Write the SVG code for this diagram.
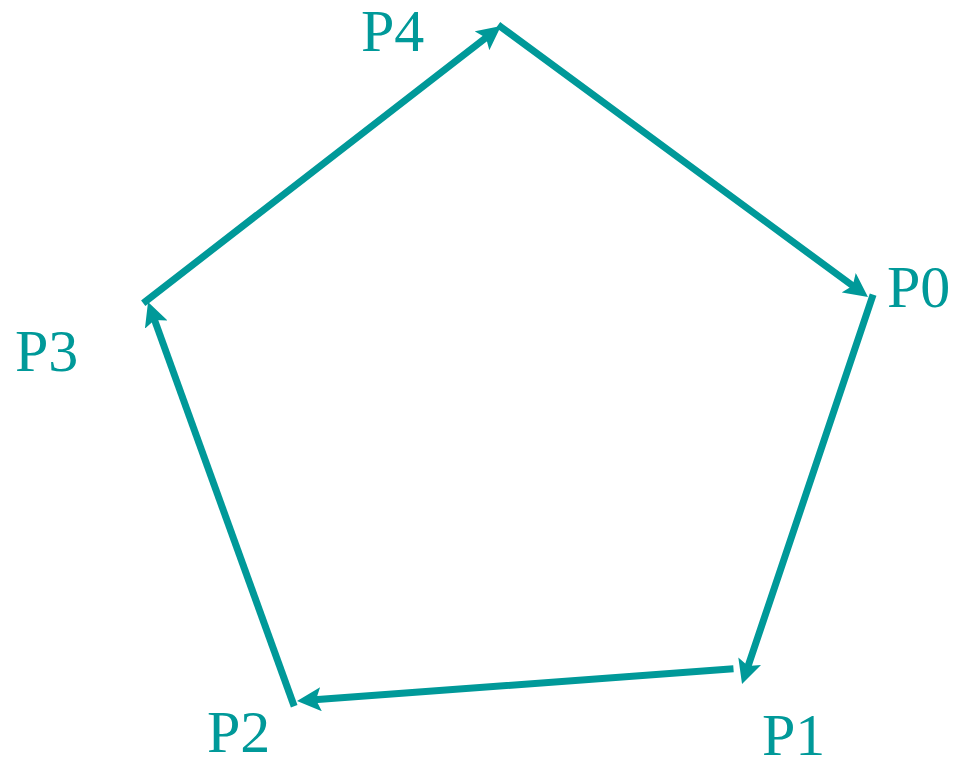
<svg xmlns="http://www.w3.org/2000/svg" width="955" height="759" viewBox="0 0 955 759">
<style>
.edge{stroke:#009999;stroke-width:7;fill:none;stroke-linecap:square;marker-end:url(#ah)}
.lbl{font-family:"Times New Roman","Liberation Serif",Tinos,serif;font-size:60px;fill:#009999}
</style>
<defs>
<marker id="ah" markerUnits="userSpaceOnUse" viewBox="0 0 24 24" markerWidth="24" markerHeight="24" refX="10" refY="12" orient="auto">
<path d="M0,0 L24,12 L0,24 L5,12 z" fill="#009999"/>
</marker>
</defs>
<g id="connectors">
<line class="edge" x1="501" y1="27" x2="856.7" y2="288.7"/>
<line class="edge" x1="872" y1="298" x2="746.5" y2="670.7"/>
<line class="edge" x1="730" y1="669" x2="311" y2="700"/>
<line class="edge" x1="293" y1="703" x2="152.8" y2="315.2"/>
<line class="edge" x1="146" y1="301" x2="489.9" y2="34.6"/>
</g>
<g id="P0"><text class="lbl" x="887" y="307">P0</text></g>
<g id="P1"><text class="lbl" x="762" y="755">P1</text></g>
<g id="P2"><text class="lbl" x="207" y="752">P2</text></g>
<g id="P3"><text class="lbl" x="15" y="371">P3</text></g>
<g id="P4"><text class="lbl" x="361" y="51">P4</text></g>
</svg>
